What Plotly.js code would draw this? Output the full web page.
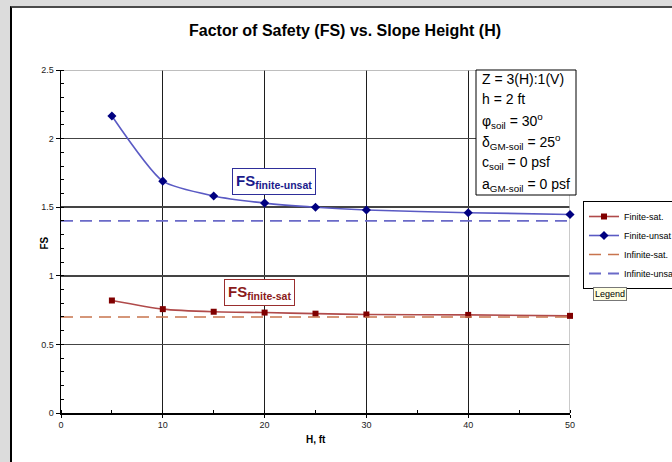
<!DOCTYPE html>
<html>
<head>
<meta charset="utf-8">
<script src="https://cdn.plot.ly/plotly-3.0.1.min.js"></script>
<style>
  html, body { margin:0; padding:0; width:672px; height:462px; overflow:hidden; background:#dcdcdc; }
  #frame { position:absolute; left:10px; top:6px; width:670px; height:470px; background:#ffffff;
           border-left:2px solid #000; border-top:2px solid #4a4a4a; box-sizing:border-box; }
  #chart { position:absolute; left:0; top:0; width:672px; height:462px; }
</style>
</head>
<body>
<div id="frame"></div>
<div id="chart"></div>
<script>
// Data
const heights = [5, 10, 15, 20, 25, 30, 40, 50];
const fsFiniteSat = [0.82, 0.757, 0.738, 0.732, 0.724, 0.718, 0.715, 0.708];
const fsFiniteUnsat = [2.165, 1.69, 1.582, 1.53, 1.5, 1.48, 1.46, 1.447];
const infiniteX = [0, 50];
const fsInfiniteSat = [0.7, 0.7];
const fsInfiniteUnsat = [1.4, 1.4];
const seriesNames = ["Finite-sat.", "Finite-unsat", "Infinite-sat.", "Infinite-unsat"];
const paramLines = [
  "Z = 3(H):1(V)",
  "h = 2 ft",
  "\u03c6<sub>soil</sub> = 30<sup>o</sup>",
  "\u03b4<sub>GM-soil</sub> = 25<sup>o</sup>",
  "c<sub>soil</sub> = 0 psf",
  "a<sub>GM-soil</sub> = 0 psf"
];

const W = 672, H = 462;
const L = 61, R = 570, T = 70, B = 413;
const px = v => (v - L) / (R - L);
const py = v => (B - v) / (B - T);

const FONT = "Liberation Sans, Arial, sans-serif";

const traces = [
  { x: heights, y: fsFiniteSat, name: seriesNames[0], mode: "lines+markers", type: "scatter",
    line: { color: "#b04a4a", width: 1.6, shape: "spline", smoothing: 0.6 },
    marker: { symbol: "square", size: 6, color: "#800000" }, cliponaxis: false },
  { x: heights, y: fsFiniteUnsat, name: seriesNames[1], mode: "lines+markers", type: "scatter",
    line: { color: "#5a5ac4", width: 1.6, shape: "spline", smoothing: 0.6 },
    marker: { symbol: "diamond", size: 7, color: "#000080" }, cliponaxis: false },
  { x: infiniteX, y: fsInfiniteSat, name: seriesNames[2], mode: "lines", type: "scatter",
    line: { color: "#c8744e", width: 1.5, dash: "12px,7px" } },
  { x: infiniteX, y: fsInfiniteUnsat, name: seriesNames[3], mode: "lines", type: "scatter",
    line: { color: "#6a6ac8", width: 1.8, dash: "12px,7px" } }
];

const annotations = [];
const lineY = [79, 99, 121, 142, 163, 185];
paramLines.forEach((t, i) => {
  annotations.push({ xref: "paper", yref: "paper", x: px(480), y: py(lineY[i]),
    xanchor: "left", yanchor: "middle", text: t, showarrow: false,
    font: { family: FONT, size: 14, color: "#000" } });
});
annotations.push(
  { xref: "x", yref: "y", x: 20.9, y: 1.69, text: "<b>FS<sub>finite-unsat</sub></b>", showarrow: false,
    font: { family: FONT, size: 15, color: "#1a1a8c" }, bgcolor: "#ffffff",
    bordercolor: "#2e2e9a", borderwidth: 1, borderpad: 3 },
  { xref: "x", yref: "y", x: 19.45, y: 0.88, text: "<b>FS<sub>finite-sat</sub></b>", showarrow: false,
    font: { family: FONT, size: 15, color: "#8b1a1a" }, bgcolor: "#ffffff",
    bordercolor: "#9a2e2e", borderwidth: 1, borderpad: 3 },
  { xref: "paper", yref: "paper", x: px(37), y: py(243), text: "<b>FS</b>", textangle: -90,
    showarrow: false, font: { family: FONT, size: 10, color: "#000" } },
  { xref: "paper", yref: "paper", x: px(316), y: py(447), text: "<b>H, ft</b>",
    showarrow: false, font: { family: FONT, size: 10, color: "#000" } },
  { xref: "paper", yref: "paper", x: px(593), y: py(294), xanchor: "left", yanchor: "middle",
    text: "Legend", showarrow: false, font: { family: FONT, size: 9, color: "#000" },
    bgcolor: "#ffffe1", bordercolor: "#777", borderwidth: 1, borderpad: 1 }
);

const shapes = [
  { type: "line", xref: "x", yref: "y", x0: 0, x1: 50, y0: 2.5, y1: 2.5,
    line: { color: "#a8a8a8", width: 1.5 }, layer: "between" },
  { type: "line", xref: "x", yref: "y", x0: 50, x1: 50, y0: 0, y1: 2.5,
    line: { color: "#b8b8b8", width: 1.5 }, layer: "between" },
  { type: "rect", xref: "paper", yref: "paper", x0: px(476), x1: px(576), y0: py(195), y1: py(70),
    line: { color: "#000", width: 1 }, fillcolor: "#ffffff", layer: "above" }
];

const layout = {
  width: W, height: H,
  margin: { l: L, r: W - R, t: T, b: H - B, autoexpand: false },
  paper_bgcolor: "rgba(0,0,0,0)",
  plot_bgcolor: "#ffffff",
  font: { family: FONT, size: 9, color: "#222" },
  title: { text: "<b>Factor of Safety (FS) vs. Slope Height (H)</b>", xref: "container", yref: "container",
    x: 345 / W, y: 1 - 30 / H, xanchor: "center", yanchor: "middle",
    font: { family: FONT, size: 16, color: "#000" } },
  xaxis: { range: [0, 50], dtick: 10, tick0: 0, showgrid: true, gridcolor: "#1e1e1e", gridwidth: 1,
    zeroline: false, showline: true, linecolor: "#000", linewidth: 1.5,
    ticks: "outside", ticklen: 3, tickcolor: "#000",
    minor: { dtick: 5, ticks: "inside", ticklen: 3, tickcolor: "#000", showgrid: false },
    tickfont: { family: FONT, size: 9, color: "#222" }, fixedrange: true },
  yaxis: { range: [0, 2.5], dtick: 0.5, tick0: 0, showgrid: true, gridcolor: "#444", gridwidth: 1.5,
    zeroline: false, showline: true, linecolor: "#000", linewidth: 1.5,
    ticks: "outside", ticklen: 4, tickcolor: "#000",
    minor: { dtick: 0.1, ticks: "inside", ticklen: 3, tickcolor: "#000", showgrid: false },
    tickfont: { family: FONT, size: 9, color: "#222" }, fixedrange: true },
  showlegend: true,
  legend: { x: px(583), y: py(201), xanchor: "left", yanchor: "top",
    bgcolor: "#ffffff", bordercolor: "#000", borderwidth: 1,
    font: { family: FONT, size: 9, color: "#000" }, itemwidth: 30, tracegroupgap: 0 },
  annotations: annotations,
  shapes: shapes
};

Plotly.newPlot("chart", traces, layout, { staticPlot: true, displayModeBar: false });
</script>
</body>
</html>
